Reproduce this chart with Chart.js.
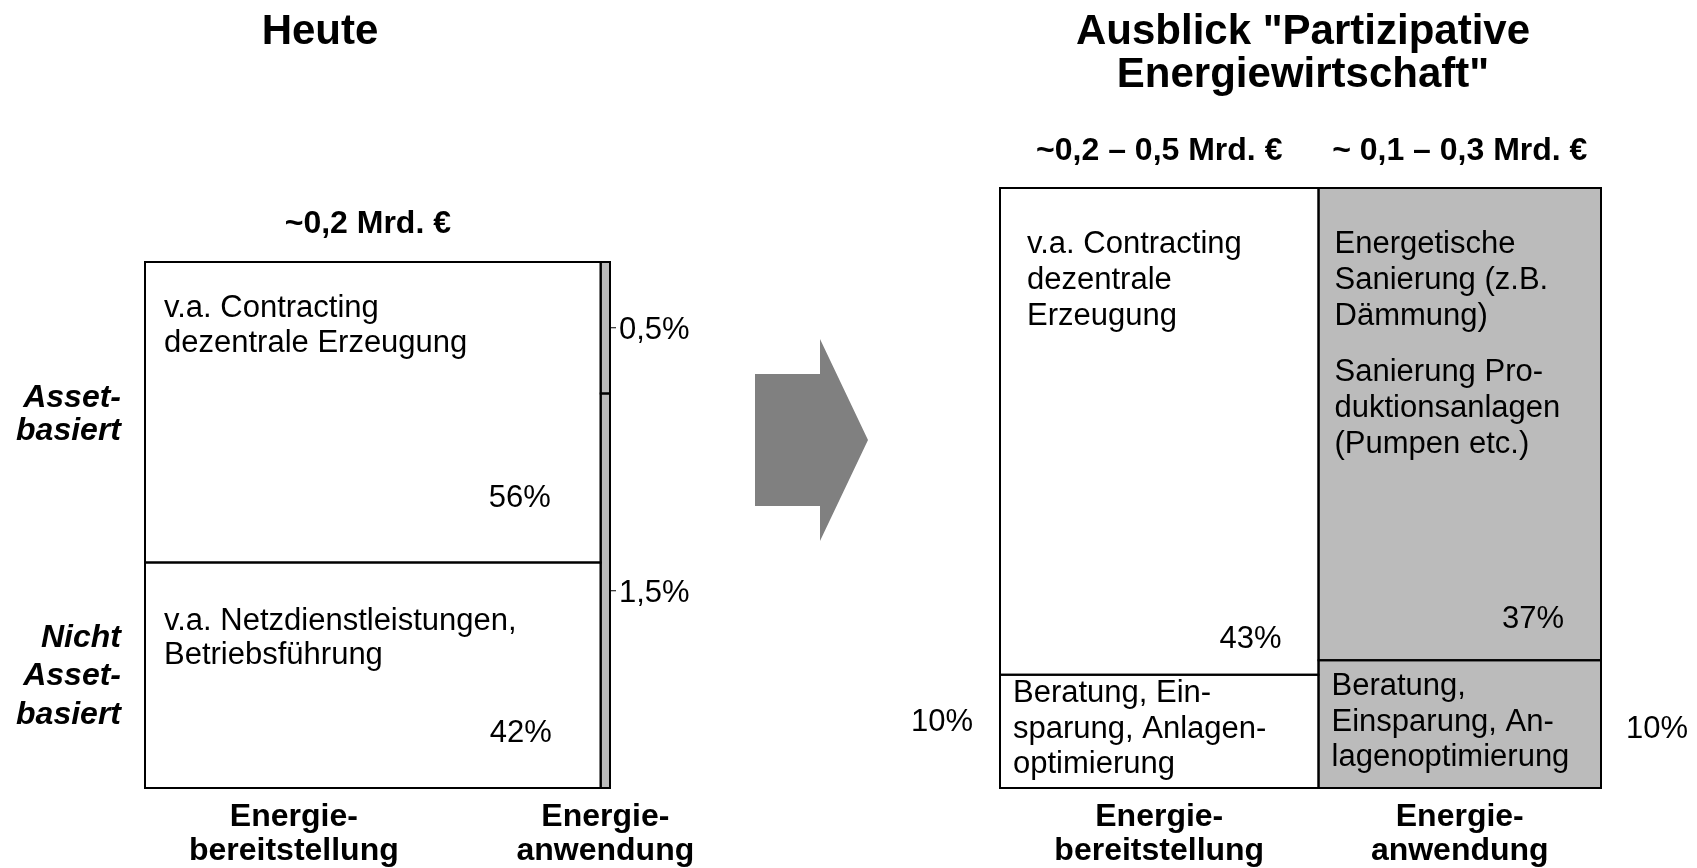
<!DOCTYPE html>
<html lang="de">
<head>
<meta charset="utf-8">
<title>Heute / Ausblick Partizipative Energiewirtschaft</title>
<script src="https://cdn.jsdelivr.net/npm/chart.js@4.4.1/dist/chart.umd.min.js"></script>
<style>
  html, body { margin: 0; padding: 0; background: #ffffff; }
  #wrap { position: relative; width: 1697px; height: 868px; overflow: hidden; background: #ffffff; }
  #wrap canvas { position: absolute; left: 0; top: 0; }
  #pfeil {
    position: absolute; left: 755px; top: 339px; width: 113px; height: 202px;
    background: #808080;
    clip-path: polygon(0 35px, 65px 35px, 65px 0, 113px 101px, 65px 202px, 65px 167px, 0 167px);
  }
</style>
</head>
<body>
<div id="wrap">
  <canvas id="heute" width="1697" height="868"></canvas>
  <canvas id="ausblick" width="1697" height="868"></canvas>
  <div id="pfeil"></div>
</div>
<script>
// ---- Heute: Anteile am Marktvolumen in % ----
const heuteTitel = 'Heute';
const heuteVolumen = '~0,2 Mrd. €';
const heuteSpalten = ['Energie-\nbereitstellung', 'Energie-\nanwendung'];
const heuteZeilen = ['Asset-\nbasiert', 'Nicht\nAsset-\nbasiert'];
const heuteAsset = [56, 0.5];
const heuteNichtAsset = [42, 1.5];
const heuteAssetText = ['v.a. Contracting\ndezentrale Erzeugung', ''];
const heuteNichtAssetText = ['v.a. Netzdienstleistungen,\nBetriebsführung', ''];

// ---- Ausblick "Partizipative Energiewirtschaft" ----
const ausblickTitel = 'Ausblick "Partizipative\nEnergiewirtschaft"';
const ausblickVolumen = ['~0,2 – 0,5 Mrd. €', '~ 0,1 – 0,3 Mrd. €'];
const ausblickSpalten = ['Energie-\nbereitstellung', 'Energie-\nanwendung'];
const ausblickAsset = [43, 37];
const ausblickNichtAsset = [10, 10];
const ausblickAssetText = [
  'v.a. Contracting\ndezentrale\nErzeugung',
  'Energetische\nSanierung (z.B.\nDämmung)\n\nSanierung Pro-\nduktionsanlagen\n(Pumpen etc.)'
];
const ausblickNichtAssetText = [
  'Beratung, Ein-\nsparung, Anlagen-\noptimierung',
  'Beratung,\nEinsparung, An-\nlagenoptimierung'
];

const FONT = '"Liberation Sans", Arial, Helvetica, sans-serif';
const SPALTENFARBEN = ['#ffffff', '#bbbbbb'];
const fmt = v => v.toLocaleString('de-DE') + '%';

// Spaltenbreite = Summe der Segmente, Trennlinie = Anteil "nicht asset-basiert" in der Spalte
function spalten(asset, nicht) {
  let x0 = 0;
  return asset.map((a, i) => {
    const total = a + nicht[i];
    const col = { x0, x1: x0 + total, split: nicht[i] / total * 100 };
    x0 += total;
    return col;
  });
}

// Mekko-Zellen als gefüllte Linien (Fläche) plus geschlossener Rahmen
function mekko(cols) {
  const fills = [], frames = [];
  cols.forEach((c, i) => {
    [[0, c.split], [c.split, 100]].forEach(([y0, y1]) => {
      fills.push({
        data: [{ x: c.x0, y: y1 }, { x: c.x1, y: y1 }],
        fill: { value: y0 }, backgroundColor: SPALTENFARBEN[i],
        borderWidth: 0, pointRadius: 0, clip: false, order: 2
      });
      frames.push({
        data: [{ x: c.x0, y: y0 }, { x: c.x0, y: y1 }, { x: c.x1, y: y1 }, { x: c.x1, y: y0 }, { x: c.x0, y: y0 }],
        fill: false, borderColor: '#000000', borderWidth: 2,
        borderJoinStyle: 'miter', borderCapStyle: 'square',
        pointRadius: 0, clip: false, order: 1
      });
    });
  });
  return fills.concat(frames);
}

function optionen(padding) {
  return {
    responsive: false, animation: false, events: [], devicePixelRatio: 1,
    layout: { padding },
    scales: {
      x: { type: 'linear', min: 0, max: 100, display: false },
      y: { type: 'linear', min: 0, max: 100, display: false }
    },
    plugins: { legend: { display: false }, tooltip: { enabled: false }, title: { display: false } }
  };
}

function textBlock(ctx, text, x, y, lh, align, paraGap) {
  ctx.textAlign = align;
  let yy = y;
  text.split('\n\n').forEach((para, p) => {
    if (p) yy += paraGap || 0;
    para.split('\n').forEach(line => { ctx.fillText(line, x, yy); yy += lh; });
  });
}
const zeilen = t => t.split('\n').length;

const heuteCols = spalten(heuteAsset, heuteNichtAsset);
const ausblickCols = spalten(ausblickAsset, ausblickNichtAsset);

const heuteBeschriftung = {
  id: 'heuteBeschriftung',
  afterDatasetsDraw(chart) {
    const { ctx, chartArea: a, scales: { x, y } } = chart;
    const top = y.getPixelForValue(100), bottom = y.getPixelForValue(0);
    ctx.save();
    ctx.fillStyle = '#000000';
    ctx.textBaseline = 'middle';

    ctx.font = `bold 42px ${FONT}`;
    ctx.textAlign = 'center';
    ctx.fillText(heuteTitel, a.left + 175, 32);

    const c0 = heuteCols[0];
    const l0 = x.getPixelForValue(c0.x0), r0 = x.getPixelForValue(c0.x1), s0 = y.getPixelForValue(c0.split);
    ctx.font = `bold 32px ${FONT}`;
    ctx.fillText(heuteVolumen, (l0 + r0) / 2 - 5, 224);

    ctx.font = `31px ${FONT}`;
    textBlock(ctx, heuteAssetText[0], l0 + 19, top + 46, 35, 'left');
    textBlock(ctx, heuteNichtAssetText[0], l0 + 19, s0 + 59, 34, 'left');
    ctx.textAlign = 'right';
    ctx.fillText(fmt(heuteAsset[0]), r0 - 50, s0 - 64);
    ctx.fillText(fmt(heuteNichtAsset[0]), r0 - 49, bottom - 55);

    // schmale Spalte: Werte mit Hinweisstrich
    const c1 = heuteCols[1];
    const r1 = x.getPixelForValue(c1.x1), s1 = y.getPixelForValue(c1.split);
    [[fmt(heuteAsset[1]), (top + s1) / 2], [fmt(heuteNichtAsset[1]), (s1 + bottom) / 2]].forEach(([t, yy]) => {
      ctx.beginPath();
      ctx.moveTo(r1 + 1, yy); ctx.lineTo(r1 + 6, yy);
      ctx.lineWidth = 1; ctx.strokeStyle = '#000000'; ctx.stroke();
      ctx.textAlign = 'left';
      ctx.fillText(t, r1 + 9, yy + 3);
    });

    ctx.font = `italic bold 32px ${FONT}`;
    const mitte = [(top + s0) / 2 + 2, (s0 + bottom) / 2 + 1];
    const zeilenAbstand = [33, 38.5];
    heuteZeilen.forEach((t, i) => {
      const lh = zeilenAbstand[i];
      textBlock(ctx, t, a.left - 24, mitte[i] - (zeilen(t) - 1) * lh / 2, lh, 'right');
    });

    ctx.font = `bold 32px ${FONT}`;
    heuteSpalten.forEach((t, i) => {
      const c = heuteCols[i];
      let cx = (x.getPixelForValue(c.x0) + x.getPixelForValue(c.x1)) / 2;
      if (i === 0) cx -= 79;
      textBlock(ctx, t, cx, bottom + 29, 34, 'center');
    });
    ctx.restore();
  }
};

const ausblickBeschriftung = {
  id: 'ausblickBeschriftung',
  afterDatasetsDraw(chart) {
    const { ctx, chartArea: a, scales: { x, y } } = chart;
    const top = y.getPixelForValue(100), bottom = y.getPixelForValue(0);
    ctx.save();
    ctx.fillStyle = '#000000';
    ctx.textBaseline = 'middle';

    ctx.font = `bold 42px ${FONT}`;
    textBlock(ctx, ausblickTitel, a.left + 303, 32, 43, 'center');

    const einzug = [27, 16];
    const prozentAbstand = [35, 41];
    ausblickCols.forEach((c, i) => {
      const l = x.getPixelForValue(c.x0), r = x.getPixelForValue(c.x1), s = y.getPixelForValue(c.split);

      ctx.font = `bold 32px ${FONT}`;
      ctx.textAlign = 'center';
      ctx.fillText(ausblickVolumen[i], (l + r) / 2, 151);
      textBlock(ctx, ausblickSpalten[i], (l + r) / 2, bottom + 29, 34, 'center');

      ctx.font = `31px ${FONT}`;
      textBlock(ctx, ausblickAssetText[i], l + einzug[i], top + 56, 36, 'left', 20);
      const t = ausblickNichtAssetText[i];
      const unten = (s + bottom) / 2;
      textBlock(ctx, t, l + 13, unten - 2 - (zeilen(t) - 1) * 35.5 / 2, 35.5, 'left');

      ctx.textAlign = 'right';
      ctx.fillText(fmt(ausblickAsset[i]), r - 37, s - prozentAbstand[i]);

      if (i === 0) {
        ctx.textAlign = 'right';
        ctx.fillText(fmt(ausblickNichtAsset[i]), a.left - 27, unten - 9);
      } else {
        ctx.textAlign = 'left';
        ctx.fillText(fmt(ausblickNichtAsset[i]), a.right + 25, unten + 5);
      }
    });
    ctx.restore();
  }
};

new Chart(document.getElementById('heute'), {
  type: 'line',
  data: { datasets: mekko(heuteCols) },
  options: optionen({ left: 145, top: 262, right: 1697 - 610, bottom: 80 }),
  plugins: [heuteBeschriftung]
});

new Chart(document.getElementById('ausblick'), {
  type: 'line',
  data: { datasets: mekko(ausblickCols) },
  options: optionen({ left: 1000, top: 188, right: 96, bottom: 80 }),
  plugins: [ausblickBeschriftung]
});
</script>
</body>
</html>
